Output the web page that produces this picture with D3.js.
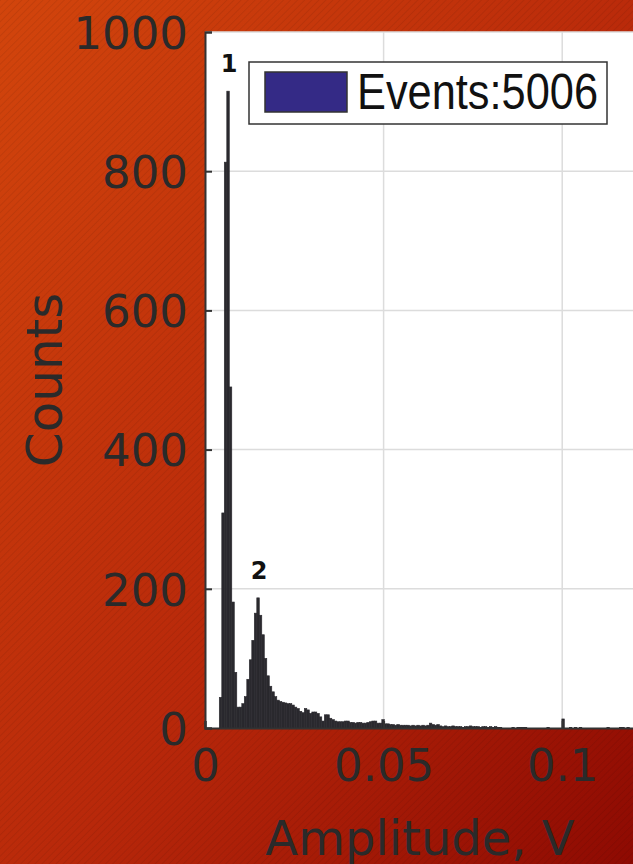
<!DOCTYPE html>
<html>
<head>
<meta charset="utf-8">
<script src="https://cdn.jsdelivr.net/npm/d3@7"></script>
<style>
  html, body { margin: 0; padding: 0; overflow: hidden; }
  svg { display: block; }
</style>
</head>
<body>
<svg width="633" height="864"></svg>
<script>
// histogram bins: start + width in volts, counts per bin
const binStart = 0.004;
const binWidth = 0.0007;
const counts = [
  44, 309, 813, 915, 490, 181, 80, 30, 30, 35,
  45, 70, 98, 126, 165, 187, 162, 134, 100, 75,
  60, 52, 45, 40, 38, 37, 36, 35, 35, 33,
  30, 28, 24, 22, 28, 26, 21, 23, 23, 21,
  16, 10, 19, 19, 14, 12, 10, 9, 9, 9,
  10, 10, 8, 8, 7, 8, 8, 7, 7, 8,
  9, 10, 10, 7, 7, 12, 6, 6, 5, 5,
  4, 5, 4, 4, 4, 4, 3, 4, 3, 4,
  3, 4, 3, 4, 7, 5, 4, 5, 3, 2,
  3, 2, 2, 3, 2, 2, 2, 1, 2, 2,
  3, 2, 2, 2, 1, 2, 2, 1, 2, 1,
  2, 1, 1, 0, 0, 0, 0, 1, 0, 1,
  1, 1, 1, 0, 0, 0, 0, 0, 0, 0,
  0, 1, 0, 0, 0, 0, 0, 13, 0, 0,
  1, 0, 1, 0, 1, 0, 0, 0, 0, 0,
  0, 0, 0, 0, 0, 1, 0, 0, 0, 0,
  1, 1, 0, 1, 0, 0
];
const xTicks = [0, 0.05, 0.1];
const xTickLabels = ['0', '0.05', '0.1'];
const yTicks = [0, 200, 400, 600, 800, 1000];
const peakLabels = [
  {text: '1', bin: 3},
  {text: '2', bin: 15}
];
const legendText = 'Events:5006';

const svg = d3.select('svg');
const defs = svg.append('defs');

// background: orange -> dark red, fine diagonal stripes
const grad = defs.append('linearGradient')
  .attr('id', 'bg').attr('x1', '0').attr('y1', '0').attr('x2', '1').attr('y2', '1');
grad.append('stop').attr('offset', '0%').attr('stop-color', '#d2450c');
grad.append('stop').attr('offset', '55%').attr('stop-color', '#b8280a');
grad.append('stop').attr('offset', '100%').attr('stop-color', '#8e0a02');

const pat = defs.append('pattern')
  .attr('id', 'stripes').attr('width', 5).attr('height', 5)
  .attr('patternUnits', 'userSpaceOnUse')
  .attr('patternTransform', 'rotate(45)');
pat.append('line')
  .attr('x1', 0).attr('y1', 0).attr('x2', 0).attr('y2', 5)
  .attr('stroke', 'rgba(0,0,0,0.07)').attr('stroke-width', 2);

svg.append('rect').attr('width', 633).attr('height', 864).attr('fill', 'url(#bg)');
svg.append('rect').attr('width', 633).attr('height', 864).attr('fill', 'url(#stripes)');

const plotLeft = 205, plotTop = 32, plotBottom = 728;
const x = d3.scaleLinear().domain([0, 0.2]).range([plotLeft, plotLeft + 0.2 * 3572]);
const y = d3.scaleLinear().domain([0, 1000]).range([plotBottom, plotTop]);

const textColor = '#2a2a2a';

// plot area
svg.append('rect')
  .attr('x', plotLeft).attr('y', plotTop)
  .attr('width', x(0.2) - plotLeft).attr('height', plotBottom - plotTop)
  .attr('fill', '#fff');

// grid
svg.append('g').selectAll('line')
  .data(yTicks.filter(d => d > 0)).enter()
  .append('line')
  .attr('x1', plotLeft).attr('x2', x(0.2))
  .attr('y1', d => y(d)).attr('y2', d => y(d))
  .attr('stroke', '#dcdcdc').attr('stroke-width', 1.5);
svg.append('g').selectAll('line')
  .data(xTicks.filter(d => d > 0)).enter()
  .append('line')
  .attr('x1', d => x(d)).attr('x2', d => x(d))
  .attr('y1', plotTop).attr('y2', plotBottom)
  .attr('stroke', '#dcdcdc').attr('stroke-width', 1.5);

// bars
const bins = counts.map((c, i) => ({x0: binStart + i * binWidth, x1: binStart + (i + 1) * binWidth, c: c}));
svg.append('g').selectAll('rect')
  .data(bins.filter(d => d.c > 0)).enter()
  .append('rect')
  .attr('x', d => x(d.x0))
  .attr('width', d => x(d.x1) - x(d.x0))
  .attr('y', d => y(d.c))
  .attr('height', d => y(0) - y(d.c))
  .attr('fill', '#2a292e')
  .attr('stroke', '#2a292e')
  .attr('stroke-width', 0.6);

// axes
const yAxis = d3.axisLeft(y).tickValues(yTicks).tickSize(-7).tickPadding(17)
  .tickFormat(d3.format('d'));
const xAxis = d3.axisBottom(x).tickValues(xTicks).tickSize(-7).tickPadding(20)
  .tickFormat((d, i) => xTickLabels[i]);

const gy = svg.append('g').attr('transform', `translate(${plotLeft},0)`).call(yAxis);
const gx = svg.append('g').attr('transform', `translate(0,${plotBottom})`).call(xAxis);

[gx, gy].forEach(g => {
  g.select('.domain').attr('stroke', '#333').attr('stroke-width', 2);
  g.selectAll('.tick line').attr('stroke', '#333').attr('stroke-width', 2);
  g.selectAll('.tick text')
    .attr('fill', textColor)
    .style('font-family', 'DejaVu Sans')
    .style('font-size', '45px');
});
gy.selectAll('.tick text').attr('dy', '0.36em');
gx.selectAll('.tick text').attr('dy', '0.74em');

// axis titles
svg.append('text')
  .attr('x', 420).attr('y', 855)
  .attr('text-anchor', 'middle')
  .attr('fill', textColor)
  .style('font-family', 'DejaVu Sans').style('font-size', '48px')
  .text('Amplitude, V');

svg.append('text')
  .attr('transform', 'translate(62,380) rotate(-90)')
  .attr('text-anchor', 'middle')
  .attr('fill', textColor)
  .style('font-family', 'DejaVu Sans').style('font-size', '50px')
  .text('Counts');

// peak numbers
svg.append('g').selectAll('text')
  .data(peakLabels).enter()
  .append('text')
  .attr('x', d => x(bins[d.bin].x0 + binWidth / 2) + 1)
  .attr('y', d => y(counts[d.bin]) - 19)
  .attr('text-anchor', 'middle')
  .attr('fill', '#111')
  .style('font-family', 'DejaVu Sans').style('font-weight', 'bold').style('font-size', '24px')
  .text(d => d.text);

// legend
const lg = svg.append('g');
lg.append('rect')
  .attr('x', 249).attr('y', 62).attr('width', 358).attr('height', 62)
  .attr('fill', '#fff').attr('stroke', '#333').attr('stroke-width', 1.5);
lg.append('rect')
  .attr('x', 265).attr('y', 72).attr('width', 82).attr('height', 40)
  .attr('fill', '#342a86').attr('stroke', '#333').attr('stroke-width', 1.5);
lg.append('text')
  .attr('x', 357).attr('y', 109)
  .attr('fill', '#111')
  .attr('textLength', 241).attr('lengthAdjust', 'spacingAndGlyphs')
  .style('font-family', '"Liberation Sans Narrow", "Liberation Sans", sans-serif')
  .style('font-size', '50px')
  .text(legendText);
</script>
</body>
</html>
